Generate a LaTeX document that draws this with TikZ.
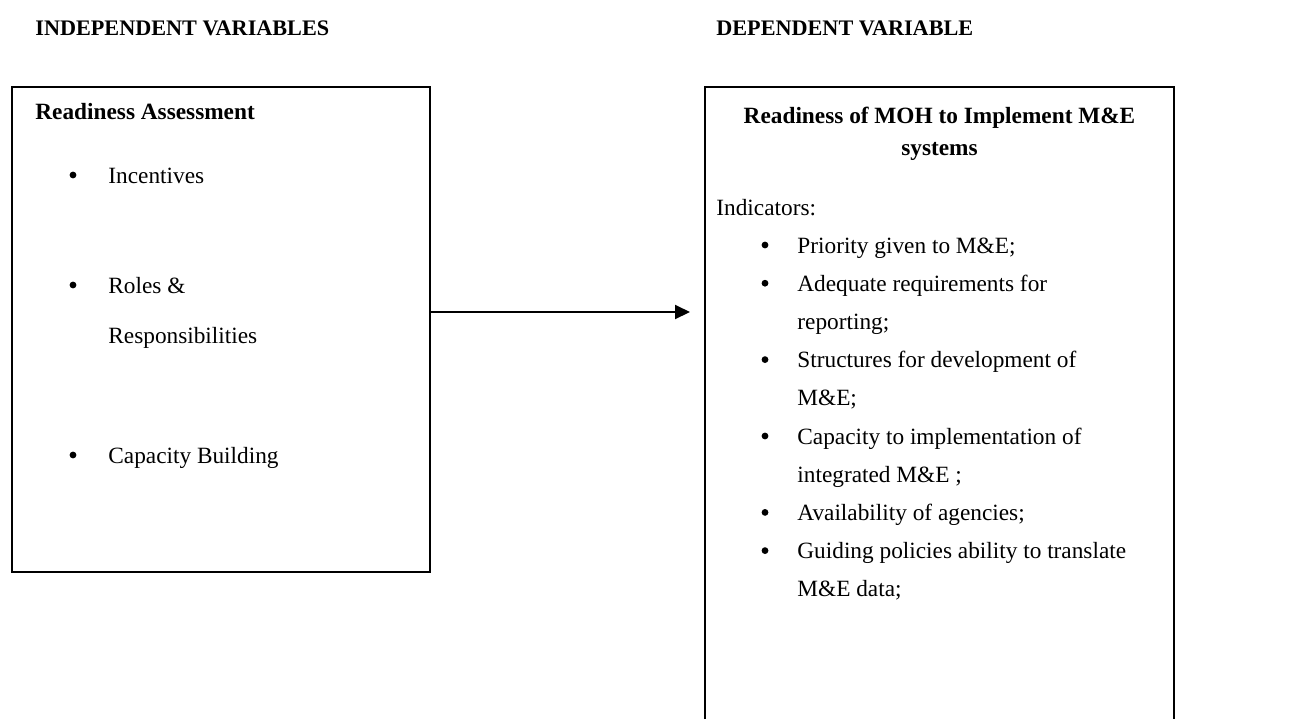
\documentclass[tikz,border=0pt]{standalone}
\usepackage{fontspec}
\setmainfont{Liberation Serif}
\usetikzlibrary{arrows.meta,positioning}

\begin{document}
\begin{tikzpicture}[x=0.5pt, y=-0.5pt,
    txt/.style={anchor=base west, inner sep=0pt, font=\fontsize{11.65}{14}\selectfont},
    head/.style={txt, font=\fontsize{11.65}{14}\selectfont\bfseries},
    bul/.style={circle, fill, inner sep=0pt, minimum size=3.4pt},
    cadre/.style={draw, line width=1pt, inner sep=0pt}]
    \useasboundingbox (0,0) rectangle (1311,719);

    % Titres
    \node[head, font=\fontsize{11.1}{13}\selectfont\bfseries] (indep) at (35,35) {INDEPENDENT VARIABLES};
    \node[head, font=\fontsize{11.1}{13}\selectfont\bfseries] (dep) at (716,35) {DEPENDENT VARIABLE};

    % Bloc gauche
    \node[cadre, minimum width=209pt, minimum height=242.5pt] (lbox) at (221,329.5) {};
    \node[head] (ltitle) at (35,119) {Readiness Assessment};
    \foreach \y in {183,293,463}
        \node[bul] at (73,\y-8) {};
    \node[txt] (incent) at (108,183) {Incentives};
    \node[txt] (roles) at (108,293) {Roles \&};
    \node[txt] (resp) at (108,343) {Responsibilities};
    \node[txt] (capb) at (108,463) {Capacity Building};

    % Bloc droit (ouvert en bas)
    \draw[line width=1pt] (705,719) |- (1174,87) -- (1174,719);
    \node[head, anchor=base] (rtitle1) at (939.5,123) {Readiness of MOH to Implement M\&E};
    \node[head, anchor=base] (rtitle2) at (939.5,155) {systems};
    \node[txt] (indic) at (716,215) {Indicators:};
    \foreach \k in {0,1,3,5,7,8}
        \node[bul] at (765,245+38.2*\k) {};
    \foreach \t [count=\k from 0] in {Priority given to M\&E;, Adequate requirements for, reporting;,
        Structures for development of, M\&E;, Capacity to implementation of, integrated M\&E ;,
        Availability of agencies;, Guiding policies ability to translate, M\&E data;}
        \node[txt] (ind\k) at (797,253+38.2*\k) {\t};

    % Fleche
    \coordinate (tip) at (690,312);
    \draw[line width=1pt, -{Triangle[length=7.5pt, width=7pt]}] (lbox.east |- tip) -- (tip);
\end{tikzpicture}
\end{document}
